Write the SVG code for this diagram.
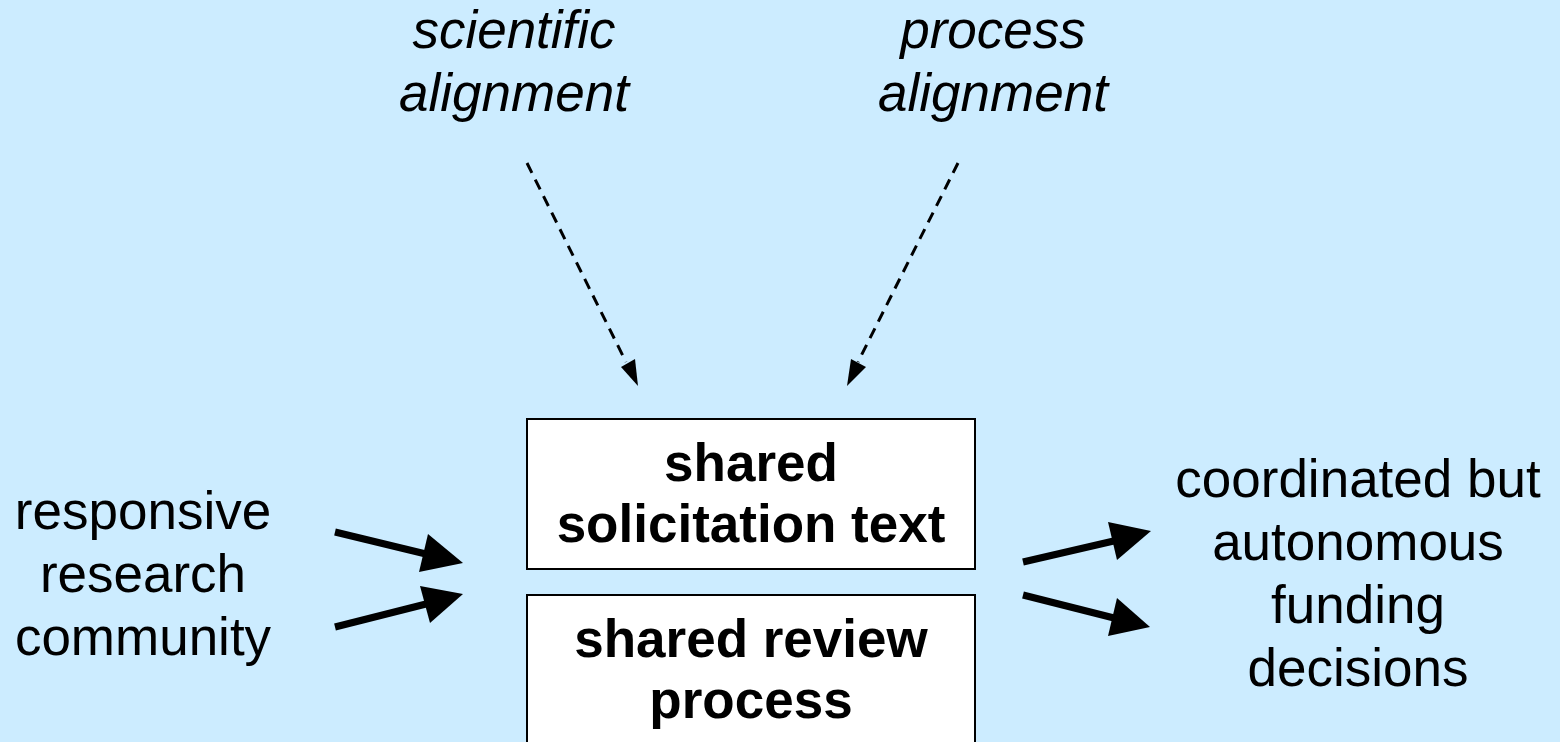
<svg xmlns="http://www.w3.org/2000/svg" width="1560" height="742" viewBox="0 0 1560 742">
<style>
.t{font-family:"Liberation Sans",Arial,sans-serif;font-size:53px;fill:#000;text-anchor:middle}
.i{font-style:italic}
.b{font-weight:bold}
.box{fill:#fff;stroke:#000;stroke-width:2}
.dash{stroke:#000;stroke-width:3;stroke-dasharray:11,7.5;fill:none}
.solid{stroke:#000;stroke-width:7;fill:none}
.head{fill:#000}
</style>
<rect width="1560" height="742" fill="#CCECFF"/>
<g id="sci">
<text class="t i" x="514" y="48">scientific</text>
<text class="t i" x="514" y="111">alignment</text>
</g>
<g id="proc">
<text class="t i" x="993" y="48">process</text>
<text class="t i" x="993" y="111">alignment</text>
</g>
<g id="community">
<text class="t" x="143" y="529">responsive</text>
<text class="t" x="143" y="592">research</text>
<text class="t" x="143" y="655">community</text>
</g>
<g id="decisions">
<text class="t" x="1358" y="497">coordinated but</text>
<text class="t" x="1358" y="560">autonomous</text>
<text class="t" x="1358" y="623">funding</text>
<text class="t" x="1358" y="686">decisions</text>
</g>
<g id="solicitation">
<rect class="box" x="527" y="419" width="448" height="150"/>
<text class="t b" x="751" y="481">shared</text>
<text class="t b" x="751" y="542">solicitation text</text>
</g>
<g id="review">
<rect class="box" x="527" y="595" width="448" height="160"/>
<text class="t b" x="751" y="657">shared review</text>
<text class="t b" x="751" y="718">process</text>
</g>
<g id="connectors">
<line class="dash" x1="527" y1="163" x2="626" y2="362"/>
<path class="head" d="M638,386 L621,367 L635,359 z"/>
<line class="dash" x1="958" y1="163" x2="858" y2="362"/>
<path class="head" d="M847,386 L851,359 L866,367 z"/>
<line class="solid" x1="335" y1="532" x2="430" y2="555"/>
<path class="head" d="M463,563 L428,534 L419,572 z"/>
<line class="solid" x1="335" y1="627" x2="430" y2="603"/>
<path class="head" d="M463,594 L420,586 L430,623 z"/>
<line class="solid" x1="1023" y1="562" x2="1118" y2="540"/>
<path class="head" d="M1151,531 L1108,522 L1117,560 z"/>
<line class="solid" x1="1023" y1="595" x2="1118" y2="619"/>
<path class="head" d="M1150,627 L1117,598 L1108,636 z"/>
</g>
</svg>
